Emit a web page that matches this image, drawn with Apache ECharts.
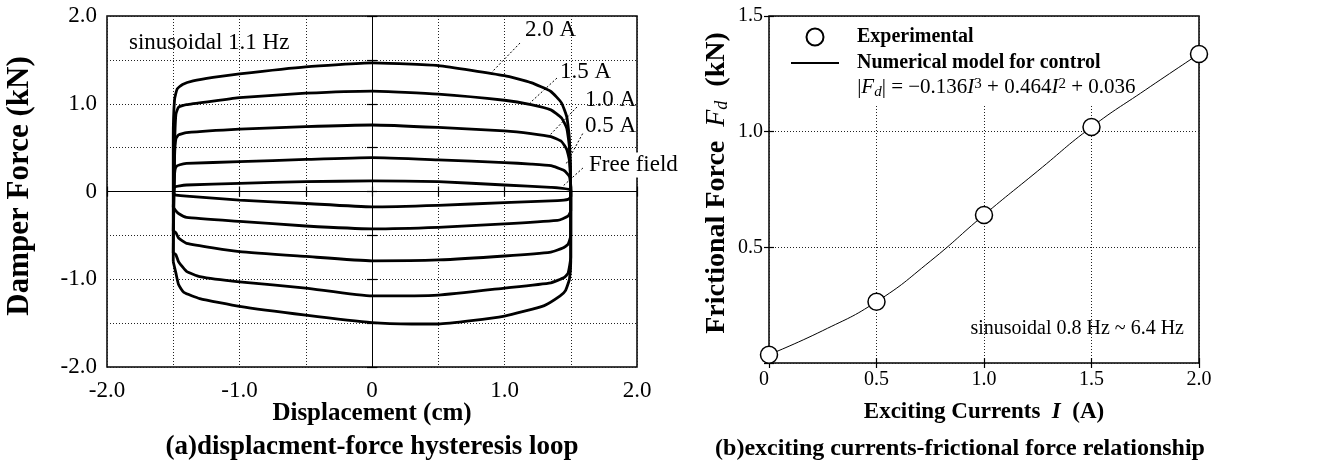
<!DOCTYPE html>
<html>
<head>
<meta charset="utf-8">
<script src="https://cdn.jsdelivr.net/npm/echarts@6/dist/echarts.min.js"></script>
<style>
html, body { margin: 0; padding: 0; background: #fff; }
#chart { width: 1335px; height: 468px; }
</style>
</head>
<body>
<div id="chart"></div>
<script>
// (a) hysteresis loops, [displacement (cm), force (kN)]
var loop20 = [[-1.50, -0.80], [-1.50, 0.60], [-1.49, 1.05], [-1.47, 1.17], [-1.43, 1.22], [-1.35, 1.26], [-1.20, 1.30],
    [-1.00, 1.34], [-0.50, 1.42], [0, 1.465], [0.50, 1.435], [1.00, 1.32], [1.20, 1.24], [1.35, 1.14], [1.43, 1.01],
    [1.47, 0.85], [1.49, 0.60], [1.50, 0.00], [1.50, -0.80], [1.49, -1.00], [1.46, -1.13], [1.42, -1.19], [1.30, -1.30],
    [1.00, -1.42], [0.50, -1.51], [0.30, -1.51], [0, -1.495], [-0.50, -1.41], [-1.00, -1.31], [-1.30, -1.22],
    [-1.42, -1.15], [-1.46, -1.06], [-1.48, -0.93], [-1.50, -0.80]];
var loop15 = [[-1.50, -0.70], [-1.49, 0.50], [-1.48, 0.88], [-1.46, 0.96], [-1.40, 0.99], [-1.20, 1.03], [-1.00, 1.07],
    [-0.50, 1.12], [0, 1.145], [0.50, 1.11], [1.00, 1.04], [1.20, 0.99], [1.35, 0.93], [1.43, 0.84], [1.47, 0.72],
    [1.49, 0.50], [1.50, 0.00], [1.50, -0.75], [1.48, -0.93], [1.45, -0.98], [1.35, -1.04], [1.00, -1.10],
    [0.50, -1.18], [0, -1.19], [-0.50, -1.10], [-1.00, -1.03], [-1.30, -0.97], [-1.40, -0.91], [-1.46, -0.80],
    [-1.48, -0.72], [-1.50, -0.70]];
var loop10 = [[-1.50, -0.45], [-1.49, 0.40], [-1.48, 0.60], [-1.46, 0.645], [-1.40, 0.67], [-1.00, 0.71], [-0.50, 0.74],
    [0, 0.758], [0.50, 0.73], [1.00, 0.69], [1.20, 0.66], [1.35, 0.625], [1.43, 0.57], [1.47, 0.48], [1.49, 0.35],
    [1.50, 0.00], [1.50, -0.50], [1.48, -0.60], [1.44, -0.645], [1.35, -0.69], [1.00, -0.735], [0.50, -0.78],
    [0, -0.79], [-0.50, -0.74], [-1.00, -0.685], [-1.40, -0.59], [-1.46, -0.53], [-1.48, -0.47], [-1.50, -0.45]];
var loop05 = [[-1.50, -0.18], [-1.49, 0.20], [-1.48, 0.28], [-1.45, 0.305], [-1.40, 0.32], [-1.00, 0.34], [-0.50, 0.365],
    [0, 0.385], [0.50, 0.36], [1.00, 0.33], [1.20, 0.313], [1.35, 0.294], [1.45, 0.24], [1.49, 0.17], [1.50, 0.05],
    [1.50, -0.22], [1.48, -0.28], [1.44, -0.31], [1.40, -0.33], [1.00, -0.37], [0.50, -0.408], [0, -0.425],
    [-0.50, -0.393], [-1.00, -0.34], [-1.40, -0.294], [-1.46, -0.25], [-1.48, -0.22], [-1.50, -0.18]];
var loopFree = [[-1.50, -0.03], [-1.49, 0.05], [-1.45, 0.065], [-1.40, 0.074], [-1.00, 0.093], [-0.50, 0.112], [0, 0.12],
    [0.50, 0.112], [1.00, 0.074], [1.35, 0.047], [1.50, 0.02], [1.50, -0.06], [1.48, -0.09], [1.40, -0.104],
    [1.00, -0.127], [0.50, -0.157], [0, -0.175], [-0.50, -0.137], [-1.00, -0.099], [-1.40, -0.053], [-1.48, -0.04],
    [-1.50, -0.03]];
var loopNames = ['2.0 A', '1.5 A', '1.0 A', '0.5 A', 'Free field'];

// (b) exciting current vs frictional force
var currents = [0, 0.5, 1.0, 1.5, 2.0];
var forces = [0.036, 0.265, 0.64, 1.02, 1.336];
var modelI = [0, 0.25, 0.5, 0.75, 1.0, 1.25, 1.5, 1.75, 2.0];
var modelF = [0.036, 0.14, 0.265, 0.44, 0.64, 0.83, 1.02, 1.18, 1.336];

var serif = '"Liberation Serif", "Times New Roman", serif';
var dotted = { color: '#222', width: 1, type: [1, 2] };

function zip(a, b) {
    var out = [];
    for (var i = 0; i < a.length; i++) out.push([a[i], b[i]]);
    return out;
}

function mainAxis(grid, pos, min, max, fmt, size, margin) {
    return {
        type: 'value', gridIndex: grid, position: pos, min: min, max: max, interval: 0.5,
        axisLine: { show: false },
        axisTick: { inside: true, length: 5, lineStyle: { color: '#000', width: 1.2 } },
        splitLine: { show: true, lineStyle: dotted },
        axisLabel: { formatter: fmt, color: '#000', fontFamily: serif, fontSize: size, margin: margin }
    };
}

function sideAxis(grid, pos, min, max) {
    return {
        type: 'value', gridIndex: grid, position: pos, min: min, max: max, interval: 0.5, z: 3,
        axisLine: { show: false },
        axisTick: { inside: true, length: 5, lineStyle: { color: '#000', width: 1.2 } },
        splitLine: { show: false },
        axisLabel: { show: false }
    };
}

var fmtA = function (v) {
    if (Math.abs(v % 1) > 1e-9) return '';
    return v === 0 ? '0' : v.toFixed(1);
};
var fmtBy = function (v) { return v === 0 ? '' : v.toFixed(1); };
var fmtBx = function (v) { return v === 0 ? '0' : v.toFixed(1); };

var xA = mainAxis(0, 'bottom', -2, 2, fmtA, 23, 12);
xA.name = 'Displacement (cm)';
xA.nameLocation = 'middle';
xA.nameGap = 34;
xA.nameMoveOverlap = false;
xA.nameTextStyle = { fontFamily: serif, fontWeight: 'bold', fontSize: 25, color: '#000' };

var yA = mainAxis(0, 'left', -2, 2, fmtA, 23, 10);

var xB = mainAxis(1, 'bottom', 0, 2, fmtBx, 20, 7);
xB.axisLabel.alignMinLabel = 'right';
xB.name = 'Exciting Currents  {i|I}  (A)';
xB.nameLocation = 'middle';
xB.nameGap = 38;
xB.nameMoveOverlap = false;
xB.nameTextStyle = {
    fontFamily: serif, fontWeight: 'bold', fontSize: 23, color: '#000',
    rich: { i: { fontFamily: serif, fontStyle: 'italic', fontSize: 23, color: '#000' } }
};

var yB = mainAxis(1, 'left', 0, 1.5, fmtBy, 20, 6);

var loopSeries = [loop20, loop15, loop10, loop05, loopFree].map(function (d, i) {
    return {
        name: loopNames[i], type: 'line', xAxisIndex: 0, yAxisIndex: 0, data: d,
        symbol: 'none', smooth: 0.15, lineStyle: { color: '#000', width: 2.8, join: 'round' }, z: 3, silent: true
    };
});

var leader = function (a, b) { return [{ coord: a }, { coord: b }]; };

var chart = echarts.init(document.getElementById('chart'));
chart.setOption({
    animation: false,
    backgroundColor: '#fff',
    grid: [
        { left: 107, top: 16, width: 530, height: 351, show: true, borderColor: '#000', borderWidth: 1.5 },
        { left: 769, top: 16, width: 430, height: 347, show: true, borderColor: '#000', borderWidth: 1.5 }
    ],
    xAxis: [xA, sideAxis(0, 'top', -2, 2), xB, sideAxis(1, 'top', 0, 2)],
    yAxis: [yA, sideAxis(0, 'right', -2, 2), yB, sideAxis(1, 'right', 0, 1.5)],
    legend: {
        orient: 'vertical', left: 785, top: 22, itemWidth: 48, itemHeight: 17, itemGap: 6,
        data: ['Experimental', { name: 'Numerical model for control', itemStyle: { opacity: 0 } }],
        textStyle: { fontFamily: serif, fontWeight: 'bold', fontSize: 20, color: '#000', padding: [0, 0, 0, 13] },
        selectedMode: false
    },
    series: [{
        type: 'line', xAxisIndex: 0, yAxisIndex: 0, data: [], silent: true,
        markLine: {
            silent: true, symbol: 'none', label: { show: false }, animation: false,
            data: [
                { xAxis: 0, lineStyle: { color: '#000', width: 1, type: 'solid' } },
                { yAxis: 0, lineStyle: { color: '#000', width: 1, type: 'solid' } },
                leader([1.117, 1.692], [0.906, 1.362]),
                leader([1.396, 1.293], [1.192, 1.009]),
                leader([1.547, 0.963], [1.343, 0.644]),
                leader([1.59, 0.66], [1.46, 0.30]),
                leader([1.592, 0.268], [1.44, 0.06])
            ],
            lineStyle: { color: '#000', width: 1, type: [2, 2] }
        }
    }].concat(loopSeries).concat([{
        name: 'Numerical model for control', type: 'line', xAxisIndex: 2, yAxisIndex: 2,
        data: zip(modelI, modelF), smooth: true, symbol: 'none',
        itemStyle: { color: '#000' },
        lineStyle: { color: '#000', width: 1 }, z: 4
    }, {
        name: 'Experimental', type: 'scatter', xAxisIndex: 2, yAxisIndex: 2,
        data: zip(currents, forces), symbol: 'circle', symbolSize: 17,
        itemStyle: { color: '#fff', borderColor: '#000', borderWidth: 1.5, opacity: 1 }, z: 5
    }])
});

// annotations placed through the axes' own scales
function px(grid, pt) { return chart.convertToPixel({ gridIndex: grid }, pt); }
var labelAt = [[1.155, 1.84], [1.419, 1.362], [1.608, 1.043], [1.608, 0.746], [1.623, 0.302]];
var graphics = labelAt.map(function (p, i) {
    var q = px(0, p);
    return {
        type: 'text', x: q[0], y: q[1], z: 6,
        style: {
            text: loopNames[i], fill: '#000', font: '23px ' + serif, textVerticalAlign: 'middle',
            backgroundColor: i === 4 ? '#fff' : null, padding: i === 4 ? [1, 2, 1, 2] : 0
        }
    };
});
var s1 = px(0, [-1.834, 1.692]);
graphics.push({
    type: 'text', x: s1[0], y: s1[1], z: 6,
    style: { text: 'sinusoidal 1.1 Hz', fill: '#000', font: '23px ' + serif, textVerticalAlign: 'middle' }
});
graphics.push({
    type: 'rect', z: 1, shape: { x: 771, y: 18, width: 362, height: 88 }, style: { fill: '#fff' }
});
var eq = px(1, [0.41, 1.19]);
graphics.push({
    type: 'text', x: eq[0], y: eq[1], z: 6,
    style: {
        text: '|{i|F}{s|d}| = \u22120.136{i|I}{p|3} + 0.464{i|I}{p|2} + 0.036',
        fill: '#000', font: '21px ' + serif, textVerticalAlign: 'middle',
        rich: {
            i: { fontFamily: serif, fontStyle: 'italic', fontSize: 21 },
            s: { fontFamily: serif, fontStyle: 'italic', fontSize: 15, verticalAlign: 'bottom', padding: [8, 0, 0, 0] },
            p: { fontFamily: serif, fontSize: 15, verticalAlign: 'top', padding: [0, 0, 8, 0] }
        }
    }
});
var s2 = px(1, [1.93, 0.15]);
graphics.push({
    type: 'text', x: s2[0], y: s2[1], z: 6,
    style: { text: 'sinusoidal 0.8 Hz ~ 6.4 Hz', fill: '#000', font: '20px ' + serif, textAlign: 'right', textVerticalAlign: 'middle' }
});
// rotated y-axis titles
graphics.push({
    type: 'text', x: 20, y: 186, rotation: Math.PI / 2, z: 6,
    style: { text: 'Damper Force (kN)', fill: '#000', font: 'bold 31px ' + serif, textAlign: 'center', textVerticalAlign: 'middle' }
});
graphics.push({
    type: 'text', x: 717, y: 183, rotation: Math.PI / 2, z: 6,
    style: {
        text: 'Frictional Force  {i|F}{s|d}  (kN)', fill: '#000', font: 'bold 28px ' + serif,
        textAlign: 'center', textVerticalAlign: 'middle',
        rich: {
            i: { fontFamily: serif, fontStyle: 'italic', fontSize: 28 },
            s: { fontFamily: serif, fontStyle: 'italic', fontSize: 18, verticalAlign: 'bottom', padding: [10, 0, 0, 0] }
        }
    }
});
graphics.push({
    type: 'text', x: 372, y: 447, z: 6,
    style: { text: '(a)displacment-force hysteresis loop', fill: '#000', font: 'bold 27px ' + serif, textAlign: 'center', textVerticalAlign: 'middle' }
});
graphics.push({
    type: 'text', x: 960, y: 449, z: 6,
    style: { text: '(b)exciting currents-frictional force relationship', fill: '#000', font: 'bold 24px ' + serif, textAlign: 'center', textVerticalAlign: 'middle' }
});
chart.setOption({ graphic: graphics });
</script>
</body>
</html>
